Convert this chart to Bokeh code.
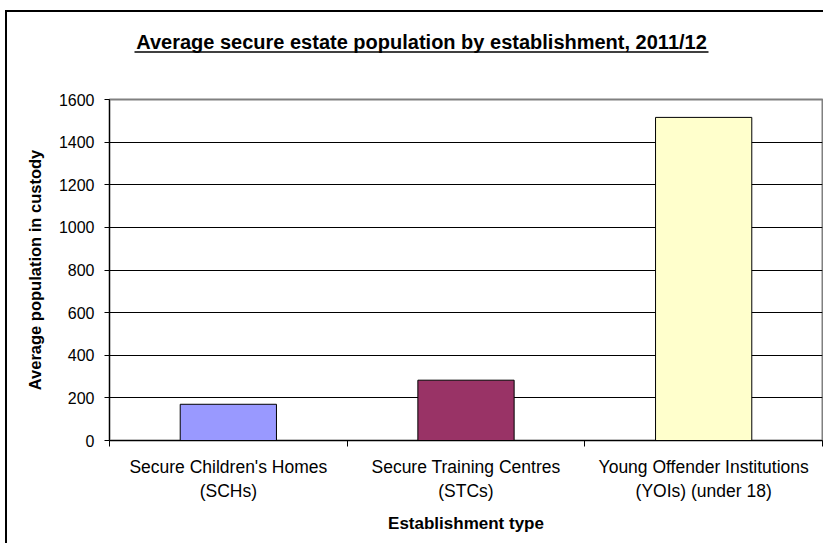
from bokeh.plotting import figure
from bokeh.models import FixedTicker, Range1d
from bokeh.layouts import column
from bokeh.core.properties import value
from bokeh.embed import file_html
from bokeh.resources import INLINE

title_text = "Average secure estate population by establishment, 2011/12"
categories = ["Secure Children's Homes\n(SCHs)",
              "Secure Training Centres\n(STCs)",
              "Young Offender Institutions\n(YOIs) (under 18)"]
values = [170, 283, 1516]
colors = ["#9999FF", "#993366", "#FFFFCC"]
y_ticks = [0, 200, 400, 600, 800, 1000, 1200, 1400, 1600]

FONT = "Liberation Sans"

# ---- title strip (frame aligned with the chart frame; pixel-like coordinates) ----
t = figure(width=816, height=48, output_backend="svg", toolbar_location=None,
           x_range=Range1d(109, 822), y_range=Range1d(60, 12),
           x_axis_type=None, y_axis_type=None,
           min_border_left=102, min_border_right=1, min_border_top=0, min_border_bottom=0,
           outline_line_color=None)
t.grid.visible = False
t.text(x=[421], y=[41.5], text=[title_text], text_font=value(FONT),
       text_font_style="bold", text_font_size="20px", text_align="center",
       text_baseline="middle", text_color="black")
t.segment(x0=[134], x1=[708], y0=[51.5], y1=[51.5], line_color="black", line_width=1.6)

# ---- chart ----
p = figure(width=816, height=483, output_backend="svg", toolbar_location=None,
           x_range=Range1d(0, len(categories)), y_range=Range1d(0, 1600),
           min_border_left=102, min_border_right=1, min_border_top=39, min_border_bottom=103)

xs = [i + 0.5 for i in range(len(categories))]
p.vbar(x=xs, top=values, width=0.405, fill_color=colors, line_color="black", line_width=1)

xa = p.xaxis[0]
xa.ticker = FixedTicker(ticks=xs, minor_ticks=list(range(len(categories) + 1)))
xa.major_label_overrides = {x: c for x, c in zip(xs, categories)}
xa.major_tick_out = 0
xa.major_tick_in = 0
xa.minor_tick_out = 6
xa.minor_tick_in = 0
xa.minor_tick_line_color = "black"
xa.axis_line_color = "black"
xa.major_label_text_font = FONT
xa.major_label_text_font_size = "17.5px"
xa.major_label_text_color = "black"
xa.major_label_standoff = 10
xa.axis_label = "Establishment type"
xa.axis_label_text_font = FONT
xa.axis_label_text_font_style = "bold"
xa.axis_label_text_font_size = "17px"
xa.axis_label_text_color = "black"
xa.axis_label_standoff = 10

ya = p.yaxis[0]
ya.ticker = FixedTicker(ticks=y_ticks)
ya.major_tick_out = 5
ya.major_tick_in = 0
ya.minor_tick_out = 0
ya.minor_tick_in = 0
ya.axis_line_color = "black"
ya.major_tick_line_color = "black"
ya.major_label_text_font = FONT
ya.major_label_text_font_size = "16px"
ya.major_label_text_color = "black"
ya.major_label_standoff = 10
ya.axis_label = "Average population in custody"
ya.axis_label_text_font = FONT
ya.axis_label_text_font_style = "bold"
ya.axis_label_text_font_size = "16.5px"
ya.axis_label_text_color = "black"
ya.axis_label_standoff = 12

p.xgrid.grid_line_color = None
p.ygrid.ticker = FixedTicker(ticks=y_ticks)
p.ygrid.grid_line_color = "black"
p.ygrid.grid_line_width = 1

p.outline_line_color = "#808080"
p.outline_line_width = 2

layout = column(t, p, spacing=0,
                styles={"border-left": "2px solid black", "border-top": "2px solid black",
                        "margin-left": "5px", "margin-top": "10px"})

open("out.html", "w").write(file_html(layout, INLINE))
